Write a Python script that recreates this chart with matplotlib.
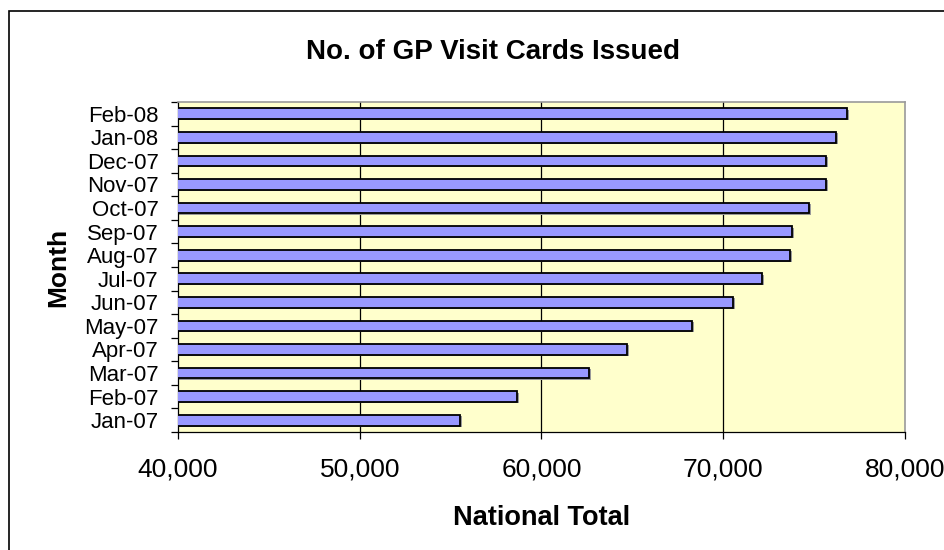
import matplotlib
matplotlib.use("Agg")
import matplotlib.pyplot as plt
from matplotlib.patches import Rectangle
from matplotlib.ticker import FuncFormatter, FixedLocator
import numpy as np

plt.rcParams['font.family'] = ['Liberation Sans', 'DejaVu Sans']

months = ["Jan-07", "Feb-07", "Mar-07", "Apr-07", "May-07", "Jun-07", "Jul-07",
          "Aug-07", "Sep-07", "Oct-07", "Nov-07", "Dec-07", "Jan-08", "Feb-08"]
totals = [55540, 58670, 62630, 64720, 68280, 70540, 72110,
          73670, 73780, 74740, 75670, 75670, 76200, 76800]
x_ticks = [40000, 50000, 60000, 70000, 80000]

fig = plt.figure(figsize=(9.45, 5.5), dpi=100)
ax = fig.add_axes([178/945, 1-432/550, (905-178)/945, (432-102)/550])
ax.set_facecolor('#FFFFCC')

y = np.arange(len(months))
# subtle shadow behind bars
ax.barh(y - 0.05, np.array(totals) + 110, height=0.45, color='#9a9a9a', zorder=2)
ax.barh(y, totals, height=0.45, color='#9999FF', edgecolor='black', linewidth=1.3, zorder=3)

ax.set_xlim(40000, 80000)
ax.set_ylim(-0.5, len(months) - 0.5)
ax.set_xticks(x_ticks)
ax.xaxis.set_major_formatter(FuncFormatter(lambda v, p: f"{int(v):,}"))
for v in x_ticks[1:-1]:
    ax.axvline(v, color='black', linewidth=0.9, zorder=1)

ax.set_yticks(y)
ax.set_yticklabels(months, fontsize=16)
ax.tick_params(axis='y', length=0, pad=14)
ax.yaxis.set_minor_locator(FixedLocator(np.arange(-0.5, len(months), 1.0)))
ax.tick_params(axis='y', which='minor', length=5, direction='out', width=0.9)
ax.tick_params(axis='x', labelsize=19, length=5, direction='out', width=0.9, pad=13)

for s in ['top', 'right']:
    ax.spines[s].set_color('#9a9a9a')
    ax.spines[s].set_linewidth(1.2)
for s in ['left', 'bottom']:
    ax.spines[s].set_color('black')
    ax.spines[s].set_linewidth(0.9)

ax.set_xlabel("National Total", fontsize=19.5, fontweight='bold', labelpad=17)
ax.set_ylabel("Month", fontsize=19, fontweight='bold', labelpad=10)
fig.text(493/945, 1 - 59/550, "No. of GP Visit Cards Issued", ha='center', va='baseline',
         fontsize=20, fontweight='bold')

fig.patches.append(Rectangle((9/945, -0.1), 1.2, 1 - 11/550 + 0.1, transform=fig.transFigure,
                             fill=False, edgecolor='black', linewidth=1.2))

fig.savefig("out.png", dpi=100)
